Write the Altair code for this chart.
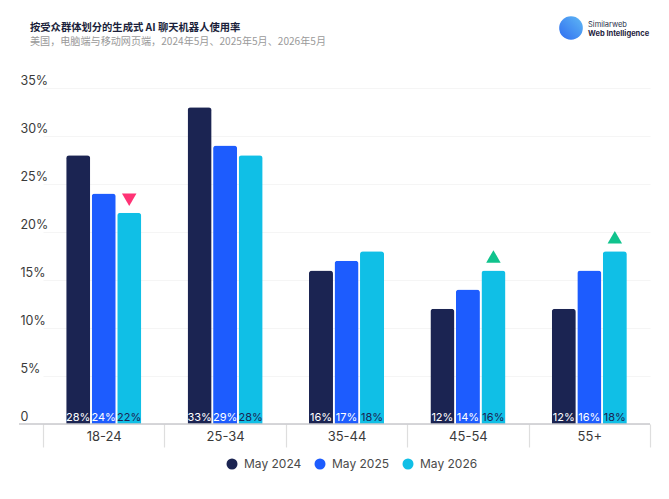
import altair as alt
import pandas as pd

groups = ["18-24", "25-34", "35-44", "45-54", "55+"]
series = ["May 2024", "May 2025", "May 2026"]
may2024 = [28, 33, 16, 12, 12]
may2025 = [24, 29, 17, 14, 16]
may2026 = [22, 28, 18, 16, 18]
change_2026 = ["down", "none", "none", "up", "up"]
colors = ["#1b2452", "#1d5cfe", "#10bfe6"]
y_ticks = [0, 5, 10, 15, 20, 25, 30, 35]

rows = []
for i, g in enumerate(groups):
    for s, vals in zip(series, [may2024, may2025, may2026]):
        rows.append({"group": g, "series": s, "value": vals[i],
                     "change": change_2026[i] if s == "May 2026" else "none"})
df = pd.DataFrame(rows)

W, H = 607, 336

x_enc = alt.X("group:N", sort=groups,
              scale=alt.Scale(paddingInner=0, paddingOuter=0),
              axis=alt.Axis(title=None, labelAngle=0, labelFontSize=13, labelColor="#3a3a3a",
                            labelFont="Inter", domain=False, ticks=True, tickBand="extent",
                            tickSize=23, tickColor="#dedede", tickWidth=1.2,
                            labelPadding=-17, grid=False))
xoff = alt.XOffset("series:N", sort=series,
                   scale=alt.Scale(paddingInner=0.059, paddingOuter=0.908))
y_scale = alt.Scale(domain=[0, 35], nice=False)

base = alt.Chart(df)

bars = base.mark_bar(cornerRadiusTopLeft=3, cornerRadiusTopRight=3).encode(
    x=x_enc,
    xOffset=xoff,
    y=alt.Y("value:Q", scale=y_scale,
            axis=alt.Axis(title=None, values=y_ticks, domain=False, ticks=False,
                          labelAlign="left", labelPadding=23, labelBaseline="alphabetic",
                          labelOffset=-4, labelFontSize=12.5, labelColor="#3a3a3a",
                          labelFont="Inter",
                          labelExpr="datum.value == 0 ? '0' : datum.value + '%'",
                          gridColor="#f5f5f5", gridWidth=1)),
    color=alt.Color("series:N", sort=series,
                    scale=alt.Scale(domain=series, range=colors),
                    legend=alt.Legend(title=None, orient="none", direction="horizontal",
                                      legendX=183, legendY=370, symbolType="circle",
                                      symbolSize=121, symbolStrokeWidth=0, labelFontSize=12,
                                      labelColor="#4a4a4a", labelFont="Inter",
                                      labelOffset=6, columnPadding=12, padding=0)),
)

labels = base.transform_calculate(lbl="datum.value + '%'").mark_text(
    baseline="alphabetic", dy=-3, fontSize=11, font="Inter"
).encode(
    x=alt.X("group:N", sort=groups),
    xOffset=alt.XOffset("series:N", sort=series),
    y=alt.datum(0),
    text="lbl:N",
    color=alt.condition(alt.datum.series == "May 2026", alt.value("#1b2452"), alt.value("white")),
)

down = base.transform_filter(alt.datum.change == "down").mark_point(
    shape="triangle-down", filled=True, size=210, opacity=1, yOffset=-13, color="#ff3375"
).encode(x=alt.X("group:N", sort=groups), xOffset=alt.XOffset("series:N", sort=series),
         y=alt.Y("value:Q"))

up = base.transform_filter(alt.datum.change == "up").mark_point(
    shape="triangle-up", filled=True, size=210, opacity=1, yOffset=-14, color="#10c38d"
).encode(x=alt.X("group:N", sort=groups), xOffset=alt.XOffset("series:N", sort=series),
         y=alt.Y("value:Q"))

baseline = alt.Chart(pd.DataFrame({"v": [0]})).mark_rule(color="#c9c9cc", strokeWidth=1.6).encode(
    x=alt.value(-24), x2=alt.value(W), y=alt.Y("v:Q", scale=y_scale)
)

logo_circle = alt.Chart(pd.DataFrame({"a": [0]})).mark_point(
    shape="circle", filled=True, size=560, opacity=1,
    fill=alt.Gradient(gradient="linear", x1=0, x2=1, y1=1, y2=0,
                      stops=[alt.GradientStop(color="#2f6df0", offset=0),
                             alt.GradientStop(color="#5fb8f5", offset=1)]),
    clip=False
).encode(x=alt.value(528), y=alt.value(-60))

logo_t1 = alt.Chart(pd.DataFrame({"t": ["Similarweb"]})).mark_text(
    align="left", baseline="middle", fontSize=7.5, font="Inter", color="#2a2f4a"
).encode(x=alt.value(545), y=alt.value(-63), text="t:N")

logo_t2 = alt.Chart(pd.DataFrame({"t": ["Web Intelligence"]})).mark_text(
    align="left", baseline="middle", fontSize=7.5, font="Inter", fontWeight="bold", color="#1f2440"
).encode(x=alt.value(545), y=alt.value(-54.5), text="t:N")

chart = alt.layer(bars, baseline, labels, down, up, logo_circle, logo_t1, logo_t2).properties(
    width=W, height=H,
    autosize=alt.AutoSizeParams(type="none"),
    padding={"left": 35, "top": 80, "right": 8, "bottom": 60},
    title=alt.TitleParams(
        text="按受众群体划分的生成式 AI 聊天机器人使用率",
        subtitle="美国，电脑端与移动网页端，2024年5月、2025年5月、2026年5月",
        anchor="start", frame="group", dx=-13, offset=-31,
        font="Noto Sans CJK SC", fontSize=10.3, fontWeight="bold", color="#1b1f3b",
        subtitleFont="Noto Sans CJK SC", subtitleFontSize=10.1, subtitleColor="#9a9a9a",
        subtitlePadding=4,
    ),
).configure_view(stroke=None)

chart.save("out.html", embed_options={"renderer": "svg", "actions": False})
